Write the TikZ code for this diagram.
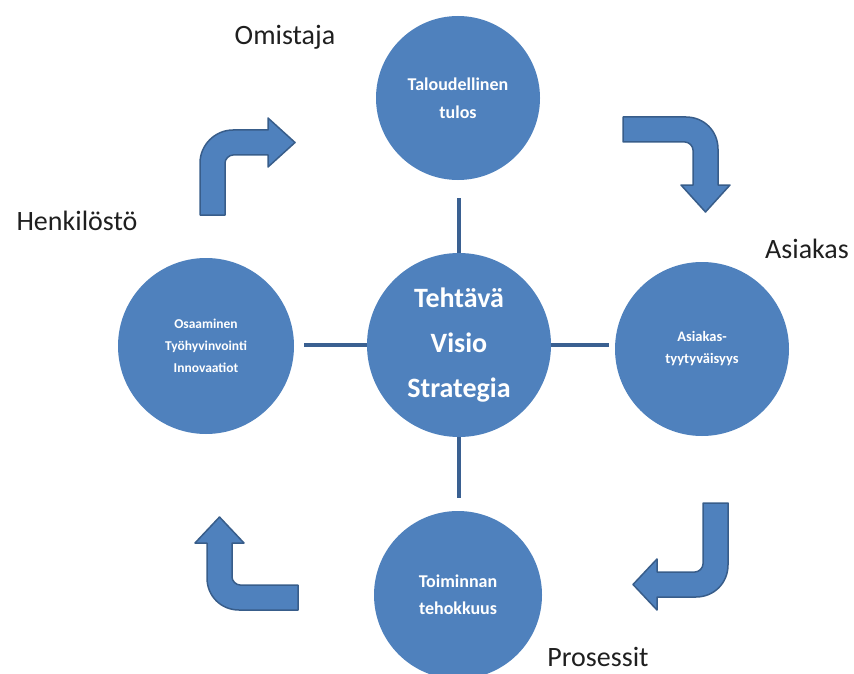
\documentclass[tikz,border=0pt]{standalone}
\usepackage{fontspec}
\setmainfont{Carlito}
\definecolor{cblue}{RGB}{79,129,189}
\definecolor{edgeblue}{RGB}{56,93,138}
\definecolor{lineblue}{RGB}{58,96,145}
\begin{document}
\begin{tikzpicture}[x=1pt,y=-1pt,
  circ/.style={circle, fill=cblue, draw=none, minimum size=#1, inner sep=0pt, text=white, align=center},
  conn/.style={draw=lineblue, line width=4pt},
  barrow/.style={fill=cblue, draw=edgeblue, line width=1.5pt, line join=round},
  lab/.style={font=\fontsize{28}{34}\selectfont, text=black!88, anchor=base, inner sep=0pt}]
\useasboundingbox (0,0) rectangle (854,674);
\clip (0,0) rectangle (854,674);

% circles
\node[circ=164pt, font=\fontsize{18}{28}\selectfont\bfseries] (T) at (458,98) {Taloudellinen\\tulos};
\node[circ=184pt, font=\fontsize{28}{45}\selectfont\bfseries] (C) at (459,345) {Tehtävä\\Visio\\Strategia};
\node[circ=176pt, font=\fontsize{13.5}{22}\selectfont\bfseries] (L) at (206,346) {Osaaminen\\Työhyvinvointi\\Innovaatiot};
\node[circ=174pt, font=\fontsize{14.5}{22}\selectfont\bfseries] (R) at (702,349) {Asiakas-\\tyytyväisyys};
\node[circ=168pt, font=\fontsize{18}{27}\selectfont\bfseries] (B) at (458,595) {Toiminnan\\tehokkuus};

% connectors
\draw[conn, shorten >=18pt] (C.north) -- (C.north |- T.south);
\draw[conn, shorten >=10pt] (C.west) -- (C.west -| L.east);
\draw[conn, shorten >=6pt] (C.east) -- (C.east -| R.west);
\draw[conn, shorten >=13pt] (C.south) -- (C.south |- B.north);

% labels
\node[lab] (lo) at (285,45) {Omistaja};
\node[lab] (lh) at (77,230) {Henkilöstö};
\node[lab] (la) at (807,258) {Asiakas};
\node[lab] (lp) at (598,666) {Prosessit};

% bent arrows
\filldraw[barrow] (200,215) -- (200,163) .. controls (200,145) and (215,130) .. (233,130)
  -- (268,130) -- (268,118) -- (295,142.5) -- (268,167) -- (268,155) -- (233,155)
  .. controls (229,155) and (225,159) .. (225,163) -- (225,215) -- cycle;
\filldraw[barrow] (623,117) -- (686,117) .. controls (704,117) and (718,131) .. (718,149)
  -- (718,185) -- (730,185) -- (705.5,212) -- (681,185) -- (693,185) -- (693,150)
  .. controls (693,146) and (689,142) .. (685,142) -- (623,142) -- cycle;
\filldraw[barrow] (703,503) -- (728,503) -- (728,565) .. controls (728,583) and (714,597) .. (696,597)
  -- (657,597) -- (657,610) -- (633,584.5) -- (657,559) -- (657,572) -- (695,572)
  .. controls (699,572) and (703,568) .. (703,564) -- cycle;
\filldraw[barrow] (298,585) -- (298,610) -- (239,610) .. controls (221,610) and (207,596) .. (207,578)
  -- (207,543) -- (195,543) -- (219.5,517) -- (244,543) -- (232,543) -- (232,577)
  .. controls (232,581) and (236,585) .. (240,585) -- cycle;
\end{tikzpicture}
\end{document}
